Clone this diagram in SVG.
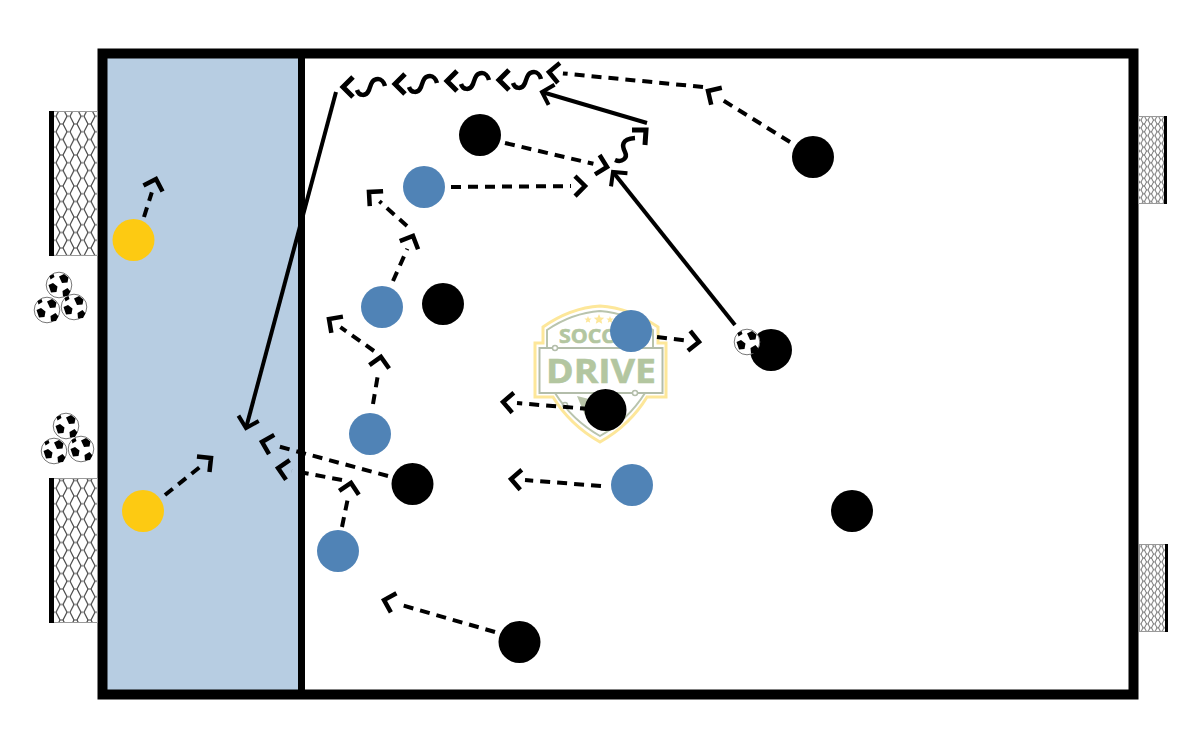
<svg xmlns="http://www.w3.org/2000/svg" xmlns:xlink="http://www.w3.org/1999/xlink" width="1200" height="750" viewBox="0 0 1200 750">
<style>
.dash{fill:none;stroke:#000;stroke-width:4;stroke-dasharray:10 7;marker-end:url(#open)}
.solid{fill:none;stroke:#000;stroke-width:4;marker-end:url(#openT)}
.sq{fill:none;stroke:#000;stroke-width:4.500}
.chev{fill:none;stroke:#000;stroke-width:5}
.blue{fill:#5083b6}.yellow{fill:#fdca12}.black{fill:#000}
.netf{stroke:#999;stroke-width:1}
.lt{font-family:"Open Sans","Liberation Sans",sans-serif;font-weight:700;fill:#b3c6a0;stroke:#b3c6a0;stroke-width:.6}
</style>
<defs>
<marker id="open" markerUnits="userSpaceOnUse" markerWidth="24" markerHeight="28" refX="0" refY="13" orient="auto"><path d="M4 3 L14 13 L4 23" fill="none" stroke="#000" stroke-width="4.500"/></marker>
<marker id="openT" markerUnits="userSpaceOnUse" markerWidth="24" markerHeight="28" refX="14" refY="13" orient="auto"><path d="M4 2.500 L14 13 L4 23.500" fill="none" stroke="#000" stroke-width="4"/></marker>
<pattern id="net" patternUnits="userSpaceOnUse" width="14" height="15.500"><rect width="14" height="15.500" fill="#fff"/><path d="M4 0 L7 0 L11 7.750 L14 7.750 M11 7.750 L7 15.500 L4 15.500 L0 7.750 L4 0" fill="none" stroke="#444" stroke-width="1.200"/></pattern>
<pattern id="net2" patternUnits="userSpaceOnUse" width="14" height="15.500" patternTransform="scale(.5 .5)"><rect width="14" height="15.500" fill="#fff"/><path d="M4 0 L7 0 L11 7.750 L14 7.750 M11 7.750 L7 15.500 L4 15.500 L0 7.750 L4 0" fill="none" stroke="#555" stroke-width="1.700"/></pattern>
<g id="ball">
<circle r="12.800" fill="#fff" stroke="#777" stroke-width="1"/>
<path d="M0 -8.500 L5 -11 L9.500 -7.500 L8.500 -2.500 L3 -2Z M-10.500 0 L-6 -2 L-1.500 1.500 L-2.500 7 L-8 7.500Z M3.500 6 L8.500 3 L11.500 6.500 L9 11 L4 11.500Z M-9.500 -9 L-5.500 -11 L-4.500 -8 L-8.500 -5.500Z" fill="#000"/>
</g>
</defs>

<g id="logo">
<path d="M600 306 Q570 308 543 327 L543 343 L535 343 L535 397 L553 397 Q570 425 600 442 Q630 425 647 397 L666 397 L666 343 L658 343 L658 327 Q630 308 600 306Z" fill="#fff" stroke="#fde79a" stroke-width="3"/>
<path d="M600 311 Q572 313 547 330 L547 348 M653 348 L653 330 Q628 313 600 311 M555 393 Q572 420 600 436 Q628 420 645 393" fill="none" stroke="#b9c4ad" stroke-width="2"/>
<rect x="539.500" y="348" width="123" height="45" fill="#fff" stroke="#b3bdaa" stroke-width="2"/>
<circle cx="555" cy="348" r="2.500" fill="#fff" stroke="#b3bdaa" stroke-width="1.500"/>
<circle cx="635" cy="393" r="2.500" fill="#fff" stroke="#b3bdaa" stroke-width="1.500"/>
<circle cx="565" cy="405" r="2.500" fill="#fff" stroke="#b3bdaa" stroke-width="1.500"/>
<path d="M599 314 l1.500 3.500 3.700 .3 -2.800 2.400 .8 3.600 -3.200 -1.900 -3.200 1.900 .8 -3.600 -2.800 -2.400 3.700 -.3Z M588 316 l1 2.400 2.600 .2 -2 1.700 .6 2.500 -2.200 -1.300 -2.200 1.300 .6 -2.500 -2 -1.700 2.600 -.2Z M610 316 l1 2.400 2.600 .2 -2 1.700 .6 2.500 -2.200 -1.300 -2.200 1.300 .6 -2.500 -2 -1.700 2.600 -.2Z" fill="#fde79a"/>
<path d="M577 396 L585 415 L593 400Z" fill="#b8c4a8"/>
<text class="lt" x="559" y="343" font-size="20" textLength="82" lengthAdjust="spacingAndGlyphs">SOCCER</text>
<text class="lt" x="546" y="383" font-size="34" textLength="110" lengthAdjust="spacingAndGlyphs">DRIVE</text>
</g>

<g id="field">
<rect x="107" y="58" width="191" height="632" fill="#b7cde2"/>
<rect x="102.500" y="53.500" width="1031" height="641" fill="none" stroke="#000" stroke-width="10"/>
<rect x="298" y="56" width="7" height="636" fill="#000"/>
</g>

<g id="goal-top-left"><rect x="49.500" y="111.500" width="48" height="144" fill="url(#net)" class="netf"/><rect x="49" y="111" width="5" height="145" fill="#000"/></g>
<g id="goal-bottom-left"><rect x="49.500" y="478.500" width="48" height="144" fill="url(#net)" class="netf"/><rect x="49" y="478" width="5" height="145" fill="#000"/></g>
<g id="goal-top-right"><rect x="1138.500" y="116.500" width="28" height="87" fill="url(#net2)" class="netf"/><rect x="1164" y="116" width="3" height="88" fill="#000"/></g>
<g id="goal-bottom-right"><rect x="1139.500" y="544.500" width="27" height="87" fill="url(#net2)" class="netf"/><rect x="1165" y="544" width="3" height="88" fill="#000"/></g>

<g id="balls-top"><use href="#ball" transform="translate(59,285)"/><use href="#ball" transform="translate(47,310)"/><use href="#ball" transform="translate(74,307)"/></g>
<g id="balls-bottom"><use href="#ball" transform="translate(66,426)"/><use href="#ball" transform="translate(54,451)"/><use href="#ball" transform="translate(81,449)"/></g>

<g id="connectors">
<path class="dash" d="M144 217 L151.800 192.300"/>
<path class="dash" d="M165 495 L200.100 466.800"/>
<path class="dash" d="M505 143 L593.400 163.800"/>
<path class="dash" d="M451 187 L571 186.100"/>
<path class="dash" d="M790 142 L719.900 98.400"/>
<path class="dash" d="M703 87 L562.900 73.400"/>
<path class="dash" d="M393 281 L407.300 248.800"/>
<path class="dash" d="M407 226 L379.400 201.300"/>
<path class="dash" d="M373 404 L378.600 370.800"/>
<path class="dash" d="M374 351 L340.400 327.100"/>
<path class="dash" d="M657 337 L685.100 340.300"/>
<path class="dash" d="M590 409 L517 403.100"/>
<path class="dash" d="M601 486 L525 480.100"/>
<path class="dash" d="M388 476 L275.500 445.600"/>
<path class="dash" d="M342 480 L291.800 470.600"/>
<path class="dash" d="M342 527 L348.200 496.700"/>
<path class="dash" d="M495 632 L397.500 603.900"/>
<path class="solid" d="M336 92 L246 428"/>
<path class="solid" d="M647 123 L542 92"/>
<path class="solid" d="M735 325 L613 172"/>
<g id="squiggles">
<g id="sq1"><path class="chev" d="M353 77 L343 87 L353 97"/><path class="sq" d="M357 90 C359 96 366 97 369 90 C371 84 372 79 378 79 C381 79 384 82 385 86"/></g>
<use href="#sq1" transform="translate(52,-3)"/>
<use href="#sq1" transform="translate(104,-6)"/>
<use href="#sq1" transform="translate(156,-7)"/>
<path class="chev" d="M632 130 L646 130 L645 145"/>
<path class="sq" d="M615 160 C622 163 628 158 625 152 C622 146 621 139 635 138"/>
</g>
</g>

<g id="yellow-1"><circle class="yellow" cx="133.500" cy="240" r="21"/></g>
<g id="yellow-2"><circle class="yellow" cx="143" cy="511" r="21"/></g>
<g id="blue-1"><circle class="blue" cx="424" cy="187" r="21"/></g>
<g id="blue-2"><circle class="blue" cx="382" cy="307" r="21"/></g>
<g id="blue-3"><circle class="blue" cx="370" cy="434" r="21"/></g>
<g id="blue-4"><circle class="blue" cx="338" cy="551" r="21"/></g>
<g id="blue-5"><circle class="blue" cx="631" cy="331" r="21"/></g>
<g id="blue-6"><circle class="blue" cx="632" cy="485" r="21"/></g>
<g id="black-1"><circle class="black" cx="480" cy="135" r="21"/></g>
<g id="black-2"><circle class="black" cx="813" cy="157" r="21"/></g>
<g id="black-3"><circle class="black" cx="443" cy="304" r="21"/></g>
<g id="black-4"><circle class="black" cx="771" cy="350" r="21"/></g>
<g id="black-5"><circle class="black" cx="605.500" cy="410" r="21"/></g>
<g id="black-6"><circle class="black" cx="412.500" cy="484" r="21"/></g>
<g id="black-7"><circle class="black" cx="852" cy="511" r="21"/></g>
<g id="black-8"><circle class="black" cx="519.500" cy="642" r="21"/></g>
<g id="ball-play"><use href="#ball" transform="translate(747,342)"/></g>
</svg>
